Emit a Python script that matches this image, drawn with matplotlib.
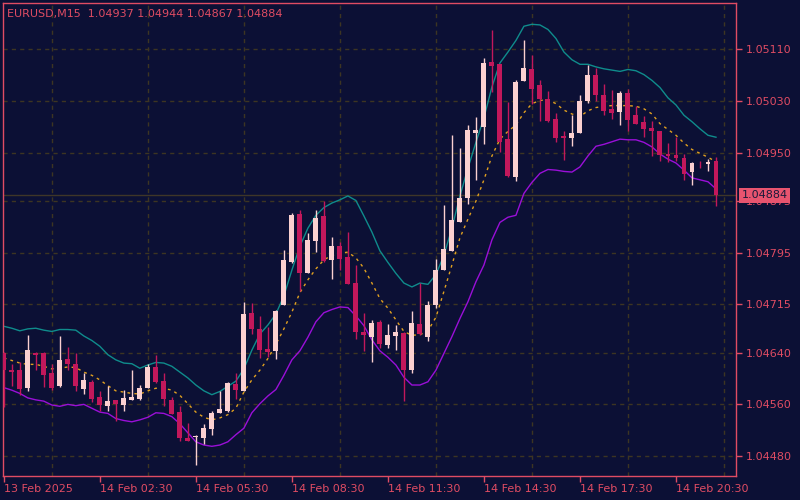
import matplotlib
matplotlib.use('Agg')
import matplotlib.pyplot as plt
import numpy as np

# EURUSD M15 candles
opens = [1.04639, 1.04614, 1.04613, 1.04586, 1.04640, 1.04640, 1.04609, 1.04588, 1.04630, 1.04623,
         1.04584, 1.04595, 1.04571, 1.04558, 1.04567, 1.04559, 1.04567, 1.04569, 1.04586, 1.04618,
         1.04596, 1.04567, 1.04548, 1.04508, 1.04510, 1.04508, 1.04522, 1.04547, 1.04550, 1.04591,
         1.04581, 1.04702, 1.04677, 1.04646, 1.04643, 1.04714, 1.04780, 1.04855, 1.04764, 1.04813,
         1.04852, 1.04783, 1.04805, 1.04788, 1.04748, 1.04672, 1.04665, 1.04688, 1.04652, 1.04666,
         1.04670, 1.04613, 1.04684, 1.04664, 1.04714, 1.04768, 1.04798, 1.04843, 1.04880, 1.04981,
         1.04990, 1.05090, 1.05087, 1.04971, 1.04913, 1.05061, 1.05080, 1.05055, 1.05033, 1.05002,
         1.04976, 1.04973, 1.04981, 1.05030, 1.05070, 1.05039, 1.05018, 1.05013, 1.05043, 1.05008,
         1.04997, 1.04988, 1.04983, 1.04948, 1.04947, 1.04942, 1.04920, 1.04933, 1.04933, 1.04937]
highs = [1.04641, 1.04623, 1.04626, 1.04667, 1.04641, 1.04641, 1.04623, 1.04666, 1.04649, 1.04639,
         1.04609, 1.04598, 1.04580, 1.04588, 1.04567, 1.04582, 1.04613, 1.04590, 1.04623, 1.04636,
         1.04609, 1.04571, 1.04557, 1.04531, 1.04513, 1.04530, 1.04550, 1.04581, 1.04595, 1.04608,
         1.04718, 1.04717, 1.04697, 1.04680, 1.04706, 1.04799, 1.04856, 1.04861, 1.04826, 1.04861,
         1.04875, 1.04820, 1.04812, 1.04827, 1.04776, 1.04701, 1.04691, 1.04690, 1.04684, 1.04683,
         1.04672, 1.04705, 1.04748, 1.04720, 1.04785, 1.04869, 1.04977, 1.04957, 1.04993, 1.05005,
         1.05096, 1.05140, 1.05087, 1.05029, 1.05063, 1.05124, 1.05101, 1.05062, 1.05045, 1.05011,
         1.04983, 1.05009, 1.05039, 1.05086, 1.05081, 1.05057, 1.05047, 1.05045, 1.05048, 1.05023,
         1.05007, 1.04999, 1.04983, 1.04965, 1.04975, 1.04948, 1.04936, 1.04937, 1.04940, 1.04944]
lows = [1.04556, 1.04588, 1.04574, 1.04581, 1.04613, 1.04587, 1.04582, 1.04587, 1.04613, 1.04580,
        1.04576, 1.04564, 1.04550, 1.04549, 1.04534, 1.04549, 1.04567, 1.04567, 1.04585, 1.04593,
        1.04557, 1.04545, 1.04503, 1.04503, 1.04466, 1.04499, 1.04513, 1.04547, 1.04548, 1.04568,
        1.04580, 1.04669, 1.04632, 1.04634, 1.04631, 1.04714, 1.04779, 1.04736, 1.04763, 1.04796,
        1.04781, 1.04754, 1.04768, 1.04746, 1.04662, 1.04642, 1.04626, 1.04647, 1.04648, 1.04644,
        1.04566, 1.04608, 1.04667, 1.04658, 1.04710, 1.04768, 1.04798, 1.04843, 1.04870, 1.04908,
        1.04963, 1.05044, 1.04951, 1.04912, 1.04906, 1.05061, 1.05026, 1.04999, 1.04998, 1.04967,
        1.04938, 1.04960, 1.04981, 1.05027, 1.05030, 1.05009, 1.05003, 1.04993, 1.04983, 1.04995,
        1.04974, 1.04945, 1.04937, 1.04935, 1.04937, 1.04908, 1.04900, 1.04927, 1.04921, 1.04867]
closes = [1.04613, 1.04610, 1.04584, 1.04644, 1.04636, 1.04605, 1.04585, 1.04629, 1.04623, 1.04588,
          1.04597, 1.04568, 1.04559, 1.04566, 1.04561, 1.04570, 1.04572, 1.04586, 1.04618, 1.04594,
          1.04568, 1.04545, 1.04508, 1.04503, 1.04511, 1.04524, 1.04547, 1.04553, 1.04593, 1.04582,
          1.04700, 1.04677, 1.04644, 1.04641, 1.04704, 1.04783, 1.04854, 1.04764, 1.04815, 1.04849,
          1.04782, 1.04805, 1.04785, 1.04746, 1.04672, 1.04667, 1.04686, 1.04654, 1.04667, 1.04672,
          1.04613, 1.04686, 1.04669, 1.04714, 1.04768, 1.04801, 1.04846, 1.04880, 1.04985, 1.04985,
          1.05089, 1.05085, 1.04967, 1.04914, 1.05060, 1.05081, 1.05048, 1.05033, 1.04999, 1.04973,
          1.04973, 1.04981, 1.05030, 1.05070, 1.05039, 1.05015, 1.05012, 1.05043, 1.05001, 1.04995,
          1.04987, 1.04984, 1.04947, 1.04945, 1.04942, 1.04917, 1.04934, 1.04932, 1.04936, 1.04884]

# bands drawn on the chart (upper / middle / lower)
upper = [1.04681, 1.04678, 1.04674, 1.04677, 1.04678, 1.04675, 1.04673, 1.04676, 1.04676, 1.04675,
         1.04666, 1.04659, 1.04650, 1.04637, 1.04629, 1.04624, 1.04623, 1.04616, 1.04621, 1.04625,
         1.04624, 1.04619, 1.04610, 1.04601, 1.04590, 1.04581, 1.04575, 1.04580, 1.04588, 1.04596,
         1.04615, 1.04644, 1.04669, 1.04683, 1.04700, 1.04728, 1.04768, 1.04805, 1.04833, 1.04853,
         1.04865, 1.04872, 1.04877, 1.04883, 1.04876, 1.04852, 1.04827, 1.04798, 1.04780, 1.04763,
         1.04748, 1.04742, 1.04748, 1.04746, 1.04761, 1.04791, 1.04833, 1.04883, 1.04926, 1.04966,
         1.05004, 1.05052, 1.05089, 1.05106, 1.05124, 1.05146, 1.05149, 1.05148, 1.05141, 1.05127,
         1.05106, 1.05094, 1.05087, 1.05087, 1.05083, 1.05080, 1.05078, 1.05076, 1.05079, 1.05077,
         1.05071, 1.05062, 1.05051, 1.05035, 1.05024, 1.05008, 1.04998, 1.04987, 1.04977, 1.04974]
middle = [1.04632, 1.04628, 1.04624, 1.04622, 1.04622, 1.04619, 1.04615, 1.04616, 1.04618, 1.04617,
          1.04610, 1.04605, 1.04598, 1.04589, 1.04581, 1.04579, 1.04577, 1.04576, 1.04581, 1.04585,
          1.04585, 1.04582, 1.04574, 1.04561, 1.04548, 1.04540, 1.04536, 1.04539, 1.04544, 1.04554,
          1.04579, 1.04598, 1.04613, 1.04631, 1.04653, 1.04677, 1.04703, 1.04733, 1.04753, 1.04770,
          1.04784, 1.04791, 1.04794, 1.04796, 1.04787, 1.04771, 1.04748, 1.04724, 1.04709, 1.04691,
          1.04673, 1.04667, 1.04668, 1.04674, 1.04695, 1.04735, 1.04776, 1.04818, 1.04847, 1.04875,
          1.04908, 1.04945, 1.04971, 1.04983, 1.04993, 1.05012, 1.05026, 1.05031, 1.05032, 1.05026,
          1.05016, 1.05010, 1.05006, 1.05015, 1.05020, 1.05022, 1.05023, 1.05023, 1.05023, 1.05022,
          1.05018, 1.05010, 1.04995, 1.04986, 1.04977, 1.04965, 1.04955, 1.04949, 1.04943, 1.04936]
lower = [1.04586, 1.04582, 1.04577, 1.04570, 1.04567, 1.04565, 1.04559, 1.04557, 1.04560, 1.04558,
         1.04560, 1.04554, 1.04548, 1.04546, 1.04538, 1.04535, 1.04533, 1.04536, 1.04540, 1.04547,
         1.04546, 1.04541, 1.04530, 1.04516, 1.04502, 1.04497, 1.04495, 1.04497, 1.04502, 1.04513,
         1.04523, 1.04547, 1.04561, 1.04573, 1.04583, 1.04605, 1.04629, 1.04643, 1.04664, 1.04688,
         1.04702, 1.04707, 1.04711, 1.04710, 1.04697, 1.04682, 1.04660, 1.04643, 1.04633, 1.04621,
         1.04602, 1.04590, 1.04590, 1.04595, 1.04613, 1.04639, 1.04665, 1.04693, 1.04719, 1.04750,
         1.04776, 1.04815, 1.04842, 1.04850, 1.04853, 1.04887, 1.04904, 1.04918, 1.04924, 1.04923,
         1.04921, 1.04920, 1.04928, 1.04945, 1.04960, 1.04963, 1.04967, 1.04971, 1.04970, 1.04970,
         1.04966, 1.04959, 1.04948, 1.04940, 1.04934, 1.04923, 1.04911, 1.04908, 1.04905, 1.04894]

price_ticks = [1.04480, 1.04560, 1.04640, 1.04715, 1.04795, 1.04875, 1.04950, 1.05030, 1.05110]
time_labels = ['13 Feb 2025', '14 Feb 02:30', '14 Feb 05:30', '14 Feb 08:30',
               '14 Feb 11:30', '14 Feb 14:30', '14 Feb 17:30', '14 Feb 20:30']
title = 'EURUSD,M15  1.04937 1.04944 1.04867 1.04884'

BG = '#0c1035'
FRAME = '#e04c63'
GRID = '#3d3522'
BULL = '#fbd0d0'
BEAR = '#c2185b'

fig = plt.figure(figsize=(8, 5), dpi=100, facecolor=BG)
ax = fig.add_axes([3/800, 24/500, 733/800, 473/500], facecolor=BG)

o = np.array(opens); h = np.array(highs); l = np.array(lows); c = np.array(closes)
x = np.arange(len(o))
cols = [BULL if cc >= oo else BEAR for oo, cc in zip(o, c)]

# grid first
ax.set_yticks(price_ticks)
ax.set_xticks(np.arange(0, len(time_labels) * 12, 12))
ax.set_xticks(np.arange(0, 96, 6), minor=True)
ax.grid(True, which='major', axis='y', color=GRID, ls=(0, (3, 3)), lw=1)
ax.grid(True, which='minor', axis='x', color=GRID, ls=(0, (3, 3)), lw=1)
ax.set_axisbelow(True)

# bid line
ax.axhline(c[-1], color='#3f3628', lw=1, zorder=1)

# bands
ax.plot(x, upper, color='#0f8c8c', lw=1, zorder=2)
ax.plot(x, lower, color='#9a0fd8', lw=1, zorder=2)
ax.plot(x, middle, color='#e0a020', lw=1, ls=(0, (2, 3)), zorder=2)

# candles
ax.vlines(x, l, h, colors=cols, lw=1, zorder=3)
body = np.maximum(np.abs(c - o), 0.000012)
bottom = np.minimum(o, c)
ax.bar(x, body, bottom=bottom, width=0.62, color=cols, lw=0, zorder=4)

ax.set_xlim(-0.1, 91.5)
ax.set_ylim(1.04449, 1.05182)

for s in ax.spines.values():
    s.set_color(FRAME)
    s.set_linewidth(1)

ax.yaxis.tick_right()
ax.set_yticklabels(['%.5f' % p for p in price_ticks])
ax.set_xticklabels(time_labels)
ax.tick_params(axis='both', which='major', colors=FRAME, labelcolor=FRAME,
               labelsize=8, length=4, width=1, direction='out')
ax.tick_params(axis='y', pad=3)
ax.tick_params(axis='x', pad=2)
ax.tick_params(axis='x', which='minor', length=0)
for t in ax.get_xticklabels():
    t.set_ha('left')

# last price label (covers the 1.04875 tick label, as on the terminal)
ax.annotate('%.5f' % c[-1], xy=(1.0, c[-1]), xycoords=('axes fraction', 'data'),
            xytext=(4, 0), textcoords='offset points', ha='left', va='center',
            fontsize=8, color='#1a1a3a', zorder=10,
            bbox=dict(boxstyle='square,pad=0.25', fc='#e8546f', ec='none'))

fig.text(7/800, 1 - 14/500, title, color=FRAME, fontsize=8, ha='left', va='center')

fig.savefig('out.png', dpi=100, facecolor=BG)
